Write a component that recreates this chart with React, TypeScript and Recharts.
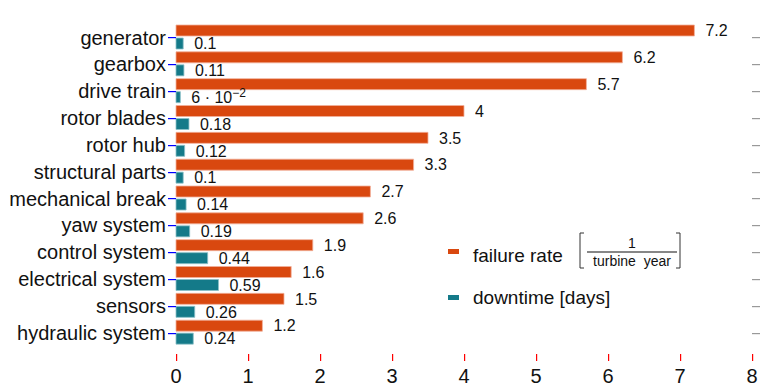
import { BarChart, Bar, XAxis, YAxis, LabelList } from 'recharts';

const components = [
    'generator', 'gearbox', 'drive train', 'rotor blades', 'rotor hub', 'structural parts',
    'mechanical break', 'yaw system', 'control system', 'electrical system', 'sensors', 'hydraulic system',
];
const failureRate = [7.2, 6.2, 5.7, 4, 3.5, 3.3, 2.7, 2.6, 1.9, 1.6, 1.5, 1.2];
const downtime = [0.1, 0.11, 0.06, 0.18, 0.12, 0.1, 0.14, 0.19, 0.44, 0.59, 0.26, 0.24];
const xTicks = [0, 1, 2, 3, 4, 5, 6, 7, 8];

const data = components.map((name, i) => ({ name, failure: failureRate[i], downtime: downtime[i] }));

const FONT = '"Liberation Sans", Arial, Helvetica, sans-serif';
const ORANGE = '#d9480f';
const TEAL = '#147a89';
const TICK = '#999999';

// tick renderers draw their own little tick mark (as a thin rect) next to the label
function BottomTick(props: any) {
    const { x, y, payload } = props;
    return (
        <g>
            <rect x={Math.round(x)} y={y - 15} width={1.2} height={7} fill="#ff0000" />
            <text x={x} y={y} dy="0.71em" textAnchor="middle" fontSize={20} fill="#111" fontFamily={FONT}>
                {payload.value}
            </text>
        </g>
    );
}

function TopTick(props: any) {
    const { x, y } = props;
    return <rect x={Math.round(x)} y={y} width={1.2} height={7} fill="#00aa00" />;
}

function LeftTick(props: any) {
    const { x, y, payload } = props;
    return (
        <g>
            <rect x={x + 2} y={Math.round(y)} width={8} height={1.2} fill="#0000ff" />
            <text x={x} y={y} dy="0.36em" textAnchor="end" fontSize={20} fill="#111" fontFamily={FONT}>
                {payload.value}
            </text>
        </g>
    );
}

function RightTick(props: any) {
    const { x, y } = props;
    return <rect x={x - 8} y={Math.round(y)} width={8} height={1.2} fill={TICK} />;
}

function ValueLabel(props: any) {
    const { x, y, width, height, value } = props;
    const tx = x + width + 11;
    const ty = y + height / 2;
    if (value === 0.06) {
        return (
            <text x={tx} y={ty} dy="0.36em" fontSize={16} fill="#111" fontFamily={FONT}>
                6 · 10
                <tspan dy={-6} fontSize={12}>−2</tspan>
            </text>
        );
    }
    return (
        <text x={tx} y={ty} dy="0.36em" fontSize={16} fill="#111" fontFamily={FONT}>
            {String(value)}
        </text>
    );
}

function LegendOverlay() {
    return (
        <svg width={766} height={387} style={{ position: 'absolute', left: 0, top: 0, pointerEvents: 'none' }}>
            <g fontFamily={FONT} fill="#111">
                <rect x={448} y={249} width={11} height={5} fill={ORANGE} />
                <text x={473} y={255} dy="0.36em" fontSize={19}>failure rate</text>
                <path d="M584,233 L580,233 L580,268 L584,268" stroke="#333" fill="none" strokeWidth={1} />
                <path d="M676,233 L680,233 L680,268 L676,268" stroke="#333" fill="none" strokeWidth={1} />
                <text x={632} y={243} dy="0.36em" fontSize={14} textAnchor="middle">1</text>
                <line x1={587} x2={677} y1={252} y2={252} stroke="#111" strokeWidth={1.2} />
                <text x={632} y={261} dy="0.36em" fontSize={14} textAnchor="middle" xmlSpace="preserve">turbine  year</text>
                <rect x={448} y={295} width={11} height={5} fill={TEAL} />
                <text x={473} y={297} dy="0.36em" fontSize={19}>downtime [days]</text>
            </g>
        </svg>
    );
}

export default function App() {
    return (
        <div style={{ position: 'absolute', left: 0, top: 0, width: 766, height: 387, background: '#fff' }}>
            <BarChart
                width={766}
                height={387}
                data={data}
                layout="vertical"
                margin={{ top: 0, right: 0, bottom: 0, left: 0 }}
                barSize={11}
                barGap={2}
            >
                <XAxis
                    xAxisId="bottom"
                    type="number"
                    domain={[0, 8]}
                    ticks={xTicks}
                    interval={0}
                    height={33}
                    axisLine={false}
                    tickLine={false}
                    tickSize={7}
                    tickMargin={8}
                    tick={BottomTick}
                />
                <XAxis
                    xAxisId="top"
                    orientation="top"
                    type="number"
                    domain={[0, 8]}
                    ticks={xTicks}
                    interval={0}
                    height={16}
                    axisLine={false}
                    tickLine={false}
                    tickSize={7}
                    tickMargin={0}
                    tick={TopTick}
                />
                <YAxis
                    yAxisId="left"
                    type="category"
                    dataKey="name"
                    width={176}
                    axisLine={false}
                    tickLine={false}
                    tickSize={8}
                    tickMargin={2}
                    padding={{ top: 8, bottom: 8 }}
                    interval={0}
                    tick={LeftTick}
                />
                <YAxis
                    yAxisId="right"
                    orientation="right"
                    type="category"
                    dataKey="name"
                    width={14}
                    axisLine={false}
                    tickLine={false}
                    tickSize={8}
                    tickMargin={0}
                    padding={{ top: 8, bottom: 8 }}
                    interval={0}
                    tick={RightTick}
                />
                <Bar
                    dataKey="failure"
                    xAxisId="bottom"
                    yAxisId="left"
                    fill={ORANGE}
                    stroke="#f2b09a"
                    strokeWidth={0.8}
                    isAnimationActive={false}
                >
                    <LabelList dataKey="failure" content={ValueLabel} />
                </Bar>
                <Bar
                    dataKey="downtime"
                    xAxisId="bottom"
                    yAxisId="left"
                    fill={TEAL}
                    stroke="#8cc0c8"
                    strokeWidth={0.8}
                    isAnimationActive={false}
                >
                    <LabelList dataKey="downtime" content={ValueLabel} />
                </Bar>
            </BarChart>
            <LegendOverlay />
        </div>
    );
}
